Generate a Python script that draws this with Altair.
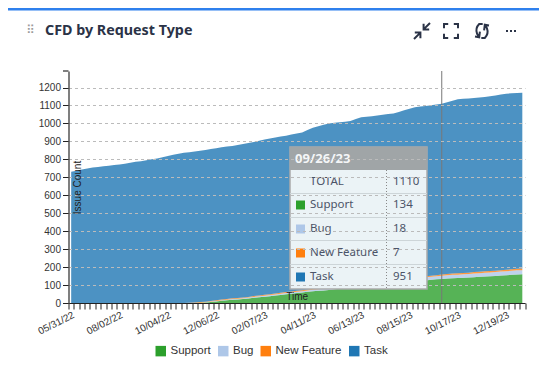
import altair as alt
import pandas as pd

dates = list(pd.date_range("2022-05-31", periods=85, freq="7D").strftime("%m/%d/%y"))
tick_labels = ["05/31/22", "08/02/22", "10/04/22", "12/06/22", "02/07/23",
               "04/11/23", "06/13/23", "08/15/23", "10/17/23", "12/19/23"]
series_names = ["Support", "Bug", "New Feature", "Task"]
series_colors = ["#2ca02c", "#aec7e8", "#ff7f0e", "#1f77b4"]

support = [0] * 24 + [1, 3, 6, 9, 12, 15, 18, 20, 22, 25, 29, 32, 35, 38, 42, 45, 49, 52, 55, 58, 62, 65, 68, 70, 73,
                      76, 79, 82, 85, 87, 90, 93, 96, 99, 102, 105, 108, 111, 114, 117, 120, 123, 126, 129, 132, 134,
                      136, 138, 139, 141, 142, 144, 146, 148, 149, 151, 153, 155, 157, 159, 160]
bug = [0] * 24 + [1, 1, 2, 2, 3, 3, 4, 4, 4, 5, 5, 5, 6, 6, 6, 7, 7, 7, 8, 8, 8, 9, 9, 9, 10, 10, 11, 11, 11, 12, 12,
                  13, 13, 14, 14, 14, 15, 15, 15, 16, 16, 16, 17, 17, 17, 18, 18, 19, 19, 19, 20, 20, 20, 21, 21, 21,
                  22, 22, 22, 23, 23]
new_feature = [0] * 22 + [2, 3, 3, 3, 3] + [4] * 7 + [5] * 16 + [6] * 19 + [7] * 6 + [8] * 7 + [9] * 3
task = [731, 737, 743, 749, 755, 758, 761, 765, 768, 772, 776, 781, 786, 790, 795, 800, 805, 811, 818, 825, 831, 837,
        838, 841, 843, 845, 846, 847, 848, 849, 849, 852, 855, 857, 858, 862, 864, 867, 868, 870, 871, 874, 876, 879,
        888, 897, 902, 908, 912, 913, 911, 911, 911, 919, 927, 925, 925, 925, 926, 927, 927, 932, 938, 943, 948, 949,
        948, 949, 950, 951, 957, 963, 969, 970, 970, 970, 971, 970, 973, 976, 978, 980, 980, 979, 979]

tooltip_date = "09/26/23"
tooltip_labels = ["TOTAL", "Support", "Bug", "New Feature", "Task"]
tooltip_values = ["1110", "134", "18", "7", "951"]
tooltip_colors = [None, "#2ca02c", "#aec7e8", "#ff7f0e", "#1f77b4"]

rows = []
for k, (name, vals) in enumerate(zip(series_names, [support, bug, new_feature, task])):
    for d, v in zip(dates, vals):
        rows.append({"date": d, "series": name, "value": v, "ord": k})
df = pd.DataFrame(rows)

PW, PH = 456.5, 232
X0, Y0 = 68.5, 71
CANVAS_W, CANVAS_H = 531, 363
one = pd.DataFrame({"a": [0]})
label_list = ",".join("'%s'" % t for t in tick_labels)
SANS = "Liberation Sans"
NOTO = "Noto Sans"


def px(x):
    return x - X0


def py(y):
    return y - Y0


def box(x1, y1, x2, y2, **kw):
    return alt.Chart(one).mark_rect(**kw).encode(
        x=alt.value(px(x1)), x2=alt.value(px(x2)), y=alt.value(py(y1)), y2=alt.value(py(y2)))


def line(x1, y1, x2, y2, **kw):
    return alt.Chart(one).mark_rule(**kw).encode(
        x=alt.value(px(x1)), x2=alt.value(px(x2)), y=alt.value(py(y1)), y2=alt.value(py(y2)))


def label(text, x, y, **kw):
    kw.setdefault("align", "left")
    kw.setdefault("baseline", "middle")
    return alt.Chart(pd.DataFrame({"t": [text]})).mark_text(**kw).encode(
        x=alt.value(px(x)), y=alt.value(py(y)), text="t:N")


def icon(path, x, y, size):
    return alt.Chart(one).mark_point(shape=path, size=size, filled=False, opacity=1,
                                     stroke="#2b3347", strokeWidth=2).encode(
        x=alt.value(px(x)), y=alt.value(py(y)))


x_scale = alt.Scale(type="band", domain=dates, paddingInner=0, paddingOuter=0)
x_enc = alt.X("date:O", sort=None, scale=x_scale,
              axis=alt.Axis(title="Time", titleFont=SANS, titleFontSize=10, titleFontWeight="normal",
                            titleColor="#222", titleX=PW / 2, titleY=-7, titleBaseline="middle",
                            labelExpr=f"indexof([{label_list}], datum.value) >= 0 ? datum.value : ''",
                            labelAngle=-27, labelAlign="right", labelBaseline="middle", labelOverlap=False,
                            labelFont=SANS, labelFontSize=10, labelColor="#333", labelPadding=5, labelOffset=2,
                            tickBand="extent", tickSize=6, tickColor="#222", domainColor="#222",
                            grid=False, zindex=1))
y_enc = alt.Y("value:Q", stack="zero",
              scale=alt.Scale(domain=[0, 1292], nice=False),
              axis=alt.Axis(title="Issue Count", titleFont=SANS, titleFontSize=10, titleFontWeight="normal",
                            titleColor="#222", titleX=9, titleY=PH / 2, titleAngle=-90, titleBaseline="middle",
                            values=list(range(0, 1300, 100)), format="d", labelFont=SANS, labelFontSize=10,
                            labelColor="#333", labelPadding=2, tickSize=6, tickColor="#222", domainColor="#555",
                            domainWidth=1.5, grid=True, gridColor="#bbb", gridDash=[3, 3], zindex=1))

areas = alt.Chart(df).mark_area(opacity=0.8, interpolate="linear").encode(
    x=x_enc, y=y_enc,
    color=alt.Color("series:N", sort=series_names,
                    scale=alt.Scale(domain=series_names, range=series_colors),
                    legend=alt.Legend(orient="none", legendX=px(155), legendY=py(345), direction="horizontal",
                                      title=None, symbolType="square", symbolSize=110, symbolOpacity=1,
                                      symbolStrokeWidth=0, labelFont=SANS, labelFontSize=11.5, labelColor="#333",
                                      columnPadding=6.5, columns=4)),
    order=alt.Order("ord:Q"),
)

marker = alt.Chart(pd.DataFrame({"date": [tooltip_date]})).mark_rule(color="#777", strokeWidth=1).encode(x=x_enc)

layers = [
    box(8, 8, 539, 10.5, color="#2f80ed"),
    label("⠿", 26, 30, font="DejaVu Sans", fontSize=12, color="#9a9a9a"),
    label("CFD by Request Type", 45, 31, font=NOTO, fontSize=14.3, fontWeight="bold", color="#2b3347"),
    icon("M-.5,.5L-.1,.1M-.45,.1L-.1,.1L-.1,.45M.5,-.5L.1,-.1M.45,-.1L.1,-.1L.1,-.45", 422, 31, 1024),
    icon("M-.5,-.2L-.5,-.5L-.2,-.5M.2,-.5L.5,-.5L.5,-.2M.5,.2L.5,.5L.2,.5M-.2,.5L-.5,.5L-.5,.2", 451, 31, 784),
    icon("M.05,-.5L-.2,-.5Q-.5,-.2-.35,.2L-.2,.45M-.15,.05L-.2,.45L-.5,.4"
         "M-.05,.5L.2,.5Q.5,.2.35,-.2L.2,-.45M.15,-.05L.2,-.45L.5,-.4", 482, 31, 784),
    icon("M-.5,0L-.3,0M-.1,0L.1,0M.3,0L.5,0", 511, 31, 400),
    areas,
    marker,
    line(63, 71, 68.5, 71, color="#555", strokeWidth=1.5),
    # tooltip
    box(290, 147, 427, 289, color="#ebf3f6", stroke="#aaaaaa", strokeWidth=1.5),
    box(290, 147, 427, 170, color="#a0a5a7"),
    label(tooltip_date, 295, 159, font=NOTO, fontSize=13, fontWeight="bold", color="#f4f6f7"),
    line(386.5, 170, 386.5, 288, color="#888", strokeDash=[1, 2]),
]
for yy in [193.5, 217.5, 240.5, 264.5]:
    layers.append(line(290, yy, 427, yy, color="#cdd5d8"))
for rowy, lab, val, col in zip([182, 205, 229, 253, 277], tooltip_labels, tooltip_values, tooltip_colors):
    if col:
        layers.append(box(296, rowy - 4.5, 305, rowy + 4.5, color=col))
    layers.append(label(lab, 310, rowy, font=NOTO, fontSize=11.5, color="#4b5468"))
    layers.append(label(val, 393, rowy, font=NOTO, fontSize=11.5, color="#4b5468"))

chart = alt.layer(*layers).properties(
    width=PW, height=PH,
    autosize=alt.AutoSizeParams(type="none"),
    padding={"left": X0 - 8, "top": Y0 - 8, "right": CANVAS_W - (X0 - 8) - PW, "bottom": CANVAS_H - (Y0 - 8) - PH},
    background="white",
).configure_view(stroke=None)

chart.save("out.html", embed_options={"renderer": "svg", "actions": False})
